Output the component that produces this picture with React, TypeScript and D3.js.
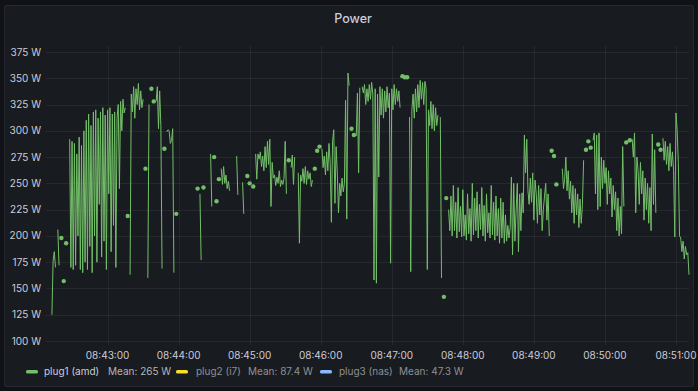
import * as d3 from "d3";

// plug1 (amd) power, one reading per second from 08:42:13, null = no reading
const plug1Values: (number | null)[] = [
  125, 176, 185, 170, null, 206, 172, null, 198, null,
  157, null, 193, null, null, 292, 170, 290, 168, 288,
  172, 278, 200, 294, 168, 286, 165, 300, 175, 310,
  168, 316, 190, 305, 165, 318, 200, 320, 175, 312,
  230, 318, 180, 322, 195, 315, 168, 320, 240, 322,
  185, 316, 210, 318, 170, 312, 325, 245, 328, 300,
  330, 317, 322, null, 219, null, 163, 335, 318, 342,
  312, 340, 325, 345, 320, 338, 322, 330, null, 264,
  null, 160, 325, null, 340, null, 328, null, 328, 342,
  302, 338, 305, 169, null, 283, null, 299, 301, 300,
  288, 291, 302, 165, null, 221, null, null, null, null,
  null, null, null, null, null, null, null, null, null, null,
  null, null, null, 245, null, 240, 177, null, 246, null,
  null, null, null, null, 278, 228, null, 275, null, 233,
  null, 254, null, 264, 249, 266, 250, 258, 245, 252,
  243, null, null, null, null, null, 276, 239, null, null,
  null, 251, 221, null, null, 257, null, 250, null, null,
  247, null, 278, 254, 278, 273, 280, 266, 276, 262,
  285, 265, 290, 268, 292, 228, 270, 255, 258, 248,
  256, 250, 262, 247, 253, 249, 255, 290, 240, null,
  272, null, 265, 277, 249, 275, null, null, 260, 193,
  258, 252, 264, 250, 266, 249, 262, 254, 260, 247,
  253, null, 264, null, 281, null, 285, null, 283, 265,
  276, 258, 280, 262, 288, 270, 213, 290, 301, 231,
  285, 260, 222, 250, 238, 255, 242, 250, 329, 216,
  355, 343, null, 302, null, 296, null, 295, 336, 260,
  341, null, 342, 336, 344, 325, 340, 328, 344, 330,
  346, 335, 158, 340, 155, 335, 256, 342, 315, 340,
  312, 338, 318, 342, 322, 336, 174, 340, 320, 344,
  325, 340, 328, 338, 322, null, 352, null, 351, null,
  351, null, 313, 166, 320, 335, 312, 340, 318, 344,
  322, 348, 330, 346, 325, 347, 340, 168, 320, 305,
  328, 302, 325, 300, 322, 305, 315, null, 313, 160,
  null, 142, null, 236, null, 225, 205, 238, 200, 248,
  205, 232, 198, 246, 204, 228, 199, 244, 200, 220,
  196, 240, 202, 226, 195, 250, 201, 236, 205, 242,
  198, 230, 206, 246, 200, 229, 195, 240, 203, 222,
  198, 248, 201, 232, 196, 238, 200, 226, 193, 236,
  198, 232, 193, 220, 195, 210, 198, 208, 256, 182,
  250, 195, 224, 250, 185, 240, 205, 241, 222, 296,
  260, 292, 243, 230, 255, 232, 260, 215, 253, 240,
  212, 248, 220, 245, 205, 225, 238, 250, 215, 240,
  200, null, 281, null, 276, null, 249, null, null, null,
  null, 264, 245, 254, 275, 243, 262, 235, 252, 222,
  248, 212, 245, 220, 240, 208, 235, 212, 230, 272,
  null, 282, null, 290, null, 284, null, 291, 298, 240,
  296, 225, 298, 228, 275, 245, 272, 250, 265, 230,
  262, 240, 255, 218, 248, 225, 242, 205, 236, 200,
  228, 202, 285, 228, null, 289, null, null, 291, null,
  292, 275, 298, 222, 275, 262, 230, 270, 240, 262,
  215, 255, 225, 250, 212, 246, 205, 297, 230, 282,
  222, null, 287, null, 282, null, 293, 272, 290, 268,
  285, 262, 288, 266, 280, 262, 199, 317, 300, 270,
  200, 198, 185, 195, 178, 190, 182, 184, 163,
];

const yTickValues = [100, 125, 150, 175, 200, 225, 250, 275, 300, 325, 350, 375];

const legendNames = ["plug1 (amd)", "plug2 (i7)", "plug3 (nas)"];
const legendMeans = ["Mean: 265 W", "Mean: 87.4 W", "Mean: 47.3 W"];
const legendColors = ["#73BF69", "#FADE2A", "#8AB8FF"];
const legendHidden = [false, true, true];

const W = 698;
const H = 391;
const FONT = "Inter, 'Noto Sans', sans-serif";

const day = (h: number, m: number, s: number) => new Date(2024, 0, 1, h, m, s);
const firstSample = day(8, 42, 13);
const stepMs = 1000;

export default function App() {
  const plot = { left: 46, right: 689, top: 46, bottom: 345 };

  const x = d3
    .scaleTime()
    .domain([day(8, 42, 8), day(8, 51, 11)])
    .range([plot.left, plot.right]);
  const y = d3.scaleLinear().domain([100, 375]).range([341, 52]);

  const pts = plug1Values.map((v, i) => ({
    t: new Date(firstSample.getTime() + i * stepMs),
    v,
  }));

  const line = d3
    .line<{ t: Date; v: number | null }>()
    .defined((d) => d.v != null)
    .x((d) => x(d.t))
    .y((d) => y(d.v as number));

  // lone readings (no neighbour on either side) are drawn as dots
  const dots = pts.filter(
    (d, i) =>
      d.v != null &&
      (i === 0 || pts[i - 1].v == null) &&
      (i === pts.length - 1 || pts[i + 1].v == null),
  );

  const xTicks = x.ticks(d3.timeMinute.every(1)!).filter((t) => x(t) > plot.left + 20);
  const fmt = d3.timeFormat("%H:%M:%S");

  const legendX = [
    { sw: 26, name: 44, mean: 108 },
    { sw: 176, name: 196, mean: 248 },
    { sw: 320, name: 339, mean: 399 },
  ];

  return (
    <div style={{ position: "absolute", left: 0, top: 0 }}>
      <svg width={W} height={H} style={{ display: "block", fontFamily: FONT }}>
        <rect x={0} y={0} width={W} height={H} fill="#111217" />
        <rect
          x={4.5}
          y={5.5}
          width={689}
          height={381}
          rx={2}
          fill="#181b1f"
          stroke="rgba(204,204,220,0.1)"
        />
        <text x={353} y={22.5} textAnchor="middle" fontSize={12.5} fontWeight={500} fill="#ccccdc">
          Power
        </text>

        {/* grid */}
        <g stroke="rgba(204,204,220,0.08)" strokeWidth={1}>
          {yTickValues.map((v) => (
            <line key={v} x1={plot.left} x2={plot.right} y1={Math.round(y(v)) + 0.5} y2={Math.round(y(v)) + 0.5} />
          ))}
          {xTicks.map((t) => (
            <line key={+t} x1={Math.round(x(t)) + 0.5} x2={Math.round(x(t)) + 0.5} y1={plot.top} y2={plot.bottom} />
          ))}
        </g>

        {/* y axis labels */}
        <g fontSize={10} fill="#ccccdc" textAnchor="end">
          {yTickValues.map((v) => (
            <text key={v} x={41} y={y(v) + 3.5}>
              {v} W
            </text>
          ))}
        </g>

        {/* x axis labels */}
        <g fontSize={10} fill="#ccccdc" textAnchor="middle">
          {xTicks.map((t) => (
            <text key={+t} x={x(t)} y={359.3}>
              {fmt(t)}
            </text>
          ))}
        </g>

        <path d={line(pts) ?? ""} fill="none" stroke="#73BF69" strokeWidth={1} />
        <g fill="#73BF69">
          {dots.map((d, i) => (
            <circle key={i} cx={x(d.t)} cy={y(d.v as number)} r={2.2} />
          ))}
        </g>

        {/* legend */}
        <g fontSize={10}>
          {legendNames.map((n, i) => (
            <g key={n}>
              <rect x={legendX[i].sw} y={370} width={12} height={3.5} rx={1.5} fill={legendColors[i]} />
              <text x={legendX[i].name} y={374.5} fill={legendHidden[i] ? "#8e9196" : "#ccccdc"}>
                {n}
              </text>
              <text x={legendX[i].mean} y={374.5} fill={legendHidden[i] ? "#8e9196" : "#b4b6bd"}>
                {legendMeans[i]}
              </text>
            </g>
          ))}
        </g>
      </svg>
    </div>
  );
}
